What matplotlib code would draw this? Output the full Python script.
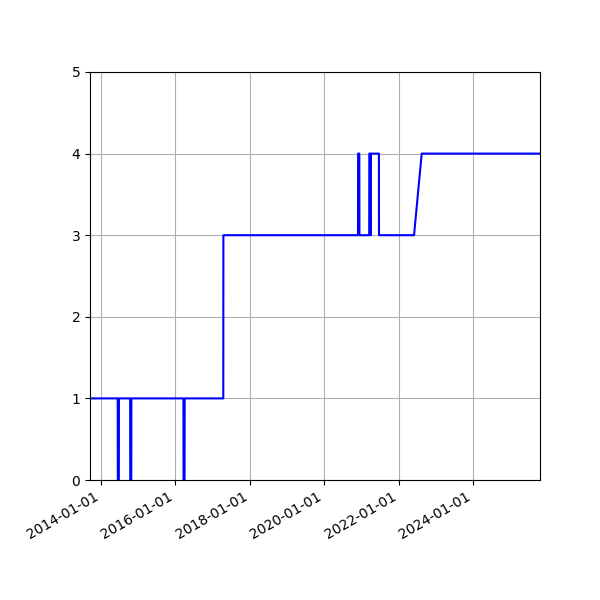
import numpy as np
import matplotlib
matplotlib.use("Agg")
import matplotlib.pyplot as plt
import matplotlib.dates as mdates

# breakpoints (date, level)
dates = [
    "2013-09-15", "2014-06-14", "2014-06-15", "2014-06-25", "2014-06-26",
    "2014-10-14", "2014-10-15", "2014-10-25", "2014-10-26",
    "2016-03-20", "2016-03-21", "2016-03-31", "2016-04-01",
    "2017-04-15", "2017-04-16",
    "2020-11-27", "2020-11-28", "2020-12-10", "2020-12-11",
    "2021-03-17", "2021-03-18", "2021-03-26", "2021-03-27", "2021-04-02", "2021-04-03",
    "2021-06-20", "2021-06-21",
    "2022-05-31", "2022-08-14", "2025-10-18",
]
values = [
    1, 1, 0, 0, 1,
    1, 0, 0, 1,
    1, 0, 0, 1,
    1, 3,
    3, 4, 4, 3,
    3, 4, 4, 3, 3, 4,
    4, 3,
    3, 4, 4,
]

x = np.array(dates, dtype="datetime64[D]")

fig = plt.figure(figsize=(6, 6), dpi=100)
ax = fig.add_axes([0.15, 0.2, 0.75, 0.68])
ax.plot(x, values, color="blue")
ax.set_xlim(x[0], x[-1])
ax.set_ylim(0, 5)
ax.set_yticks(range(6))
ax.xaxis.set_major_locator(mdates.YearLocator(2))
ax.xaxis.set_major_formatter(mdates.DateFormatter("%Y-%m-%d"))
ax.grid(True)
for lbl in ax.get_xticklabels():
    lbl.set_rotation(30)
    lbl.set_ha("right")
fig.savefig("out.png")
